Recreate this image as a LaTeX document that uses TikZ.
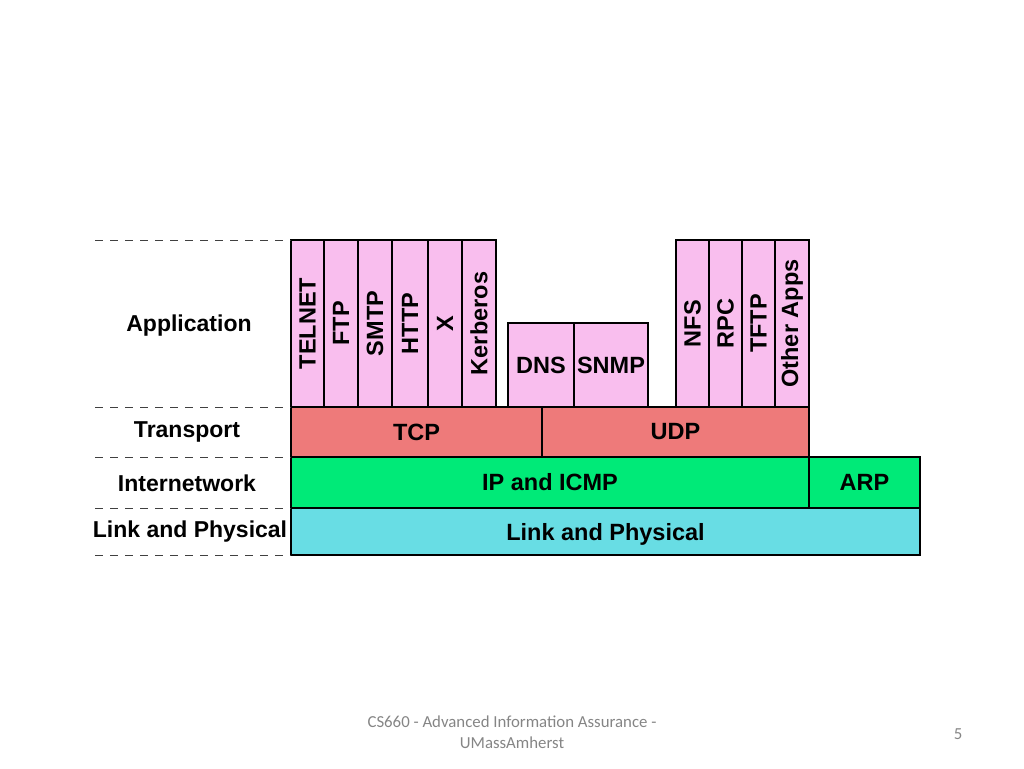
\documentclass[tikz,border=0pt]{standalone}
\usepackage{fontspec}
\setmainfont{Liberation Sans}
\newfontfamily\footfont{Carlito}
\definecolor{appfill}{HTML}{F9BEEE}
\definecolor{tcpfill}{HTML}{EE7A7A}
\definecolor{ipfill}{HTML}{00EA78}
\definecolor{linkfill}{HTML}{68DDE4}
\definecolor{footgray}{HTML}{858585}
\begin{document}
\begin{tikzpicture}[
    x=1pt, y=-1pt,
    layer/.style={rectangle, draw, line width=1.1pt, inner sep=0pt, outer sep=0pt, font=\fontsize{23.5}{26}\selectfont\bfseries},
    app/.style={layer, fill=appfill},
    appv/.style={app, rotate=90, minimum width=167pt},
    transport/.style={layer, fill=tcpfill, minimum height=50pt},
    inet/.style={layer, fill=ipfill, minimum height=51pt},
    link/.style={layer, fill=linkfill, minimum height=47pt, text depth=-3pt},
    levelname/.style={font=\fontsize{23}{26}\selectfont\bfseries},
    guide/.style={line width=0.9pt, dash pattern=on 8pt off 7pt, black!75},
    foot/.style={font=\footfont\fontsize{16.8}{21}\selectfont, text=footgray, align=center}
]
    \useasboundingbox (0,0) rectangle (1024,768);

    % application layer
    \node[appv, minimum height=33pt] (telnet) at (307.5,323.5) {TELNET};
    \node[appv, minimum height=34pt] (ftp) at (341,323.5) {FTP};
    \node[appv, minimum height=34pt] (smtp) at (375,323.5) {SMTP};
    \node[appv, minimum height=36pt] (http) at (410,323.5) {HTTP};
    \node[appv, minimum height=34pt] (xwin) at (445,323.5) {X};
    \node[appv, minimum height=34pt] (kerberos) at (479,323.5) {Kerberos};
    \node[app, minimum width=66pt, minimum height=84pt] (dns) at (541,365) {DNS};
    \node[app, minimum width=74pt, minimum height=84pt] (snmp) at (611,365) {SNMP};
    \node[appv, minimum height=33pt] (nfs) at (692.5,323.5) {NFS};
    \node[appv, minimum height=33pt] (rpc) at (725.5,323.5) {RPC};
    \node[appv, minimum height=33pt] (tftp) at (758.5,323.5) {TFTP};
    \node[appv, minimum height=34pt] (other) at (792,323.5) {Other Apps};

    % lower layers
    \node[transport, minimum width=251pt] (tcp) at (416.5,432) {TCP};
    \node[transport, minimum width=267pt] (udp) at (675.5,432) {UDP};
    \node[inet, minimum width=518pt] (ip) at (550,482.5) {IP and ICMP};
    \node[inet, minimum width=111pt] (arp) at (864.5,482.5) {ARP};
    \node[link, minimum width=629pt] (phys) at (605.5,531.5) {Link and Physical};

    % level names
    \node[levelname] (lapp) at (189,326) {Application};
    \node[levelname] (ltrans) at (187,432) {Transport};
    \node[levelname] (linet) at (187,483) {Internetwork};
    \node[levelname] (llink) at (190,532) {Link and Physical};

    % dashed guides
    \coordinate (g1) at (95,240);
    \coordinate (g2) at (95,407);
    \coordinate (g3) at (95,457);
    \coordinate (g4) at (95,508);
    \coordinate (g5) at (95,555);
    \draw[guide] (g1) -- (telnet.north east);
    \draw[guide] (g2) -- (tcp.north west);
    \draw[guide] (g3) -- (ip.north west);
    \draw[guide] (g4) -- (phys.north west);
    \draw[guide] (g5) -- (phys.south west);

    % footer
    \node[foot] (course) at (512,732) {CS660 - Advanced Information Assurance -\\UMassAmherst};
    \node[foot] (page) at (958,734) {5};
\end{tikzpicture}
\end{document}
